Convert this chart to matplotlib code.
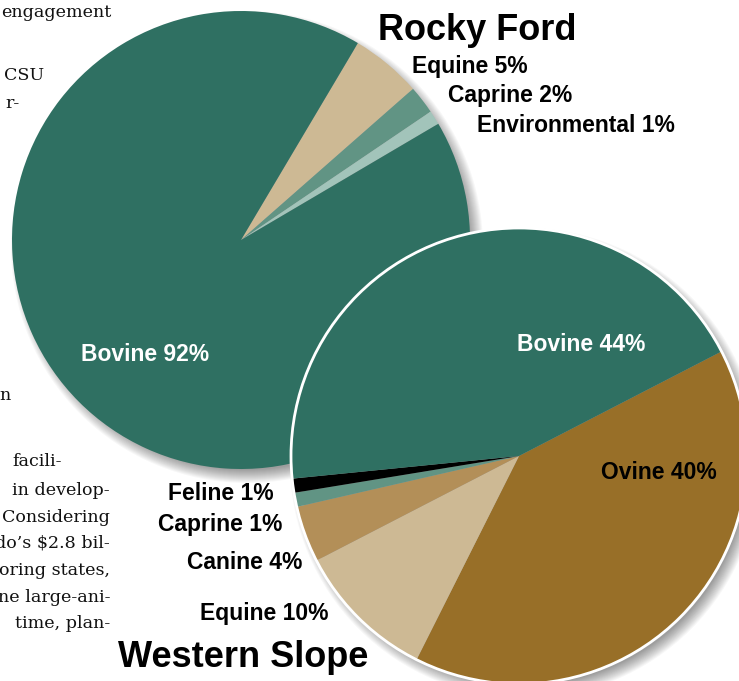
import matplotlib.pyplot as plt
from matplotlib.patches import Circle

# Rocky Ford clinic caseload (%)
rf_cats = ['Equine', 'Caprine', 'Environmental', 'Bovine']
rf_vals = [5, 2, 1, 92]
rf_colors = ['#CDB994', '#619484', '#A2C4BA', '#2F7062']

# Western Slope clinic caseload (%)
ws_cats = ['Ovine', 'Equine', 'Canine', 'Caprine', 'Feline', 'Bovine']
ws_vals = [40, 10, 4, 1, 1, 44]
ws_colors = ['#986F28', '#CDB994', '#B38F58', '#619484', '#000000', '#2F7062']

# body text of the page, cut off at the left edge
body_lines = ['engagement', 'CSU', 'r-', 'n', 'facili-', 'in develop-',
              'Considering', 'do\u2019s $2.8 bil-', 'oring states,',
              'ne large-ani-', 'time, plan-']
body_right = [111, 44, 20, 11, 62, 110, 110, 110, 110, 110, 110]
body_base = [17, 80, 108, 400, 466, 495, 522, 548, 575, 602, 628]

W, H = 739, 681


def Y(y):
    'pixel row (from top) -> data y'
    return H - y


fig = plt.figure(figsize=(W / 100, H / 100), dpi=100)
ax = fig.add_axes([0, 0, 1, 1])


def shadow(cx, cy, r):
    # soft drop shadow from stacked translucent discs
    for k in range(14):
        ax.add_patch(Circle((cx + 6, cy - 7), r - 6 + k, color='black',
                            alpha=0.03, lw=0))


rf_c, rf_r = (241, Y(240)), 229
ws_c, ws_r = (519, Y(456)), 228

shadow(*rf_c, rf_r)
ax.pie(rf_vals, colors=rf_colors, startangle=59.3, counterclock=False,
       center=rf_c, radius=rf_r, frame=True, wedgeprops=dict(linewidth=0))

shadow(*ws_c, ws_r)
ax.pie(ws_vals, colors=ws_colors, startangle=27.3, counterclock=False,
       center=ws_c, radius=ws_r, frame=True, wedgeprops=dict(linewidth=0))
ax.add_patch(Circle(ws_c, ws_r, fill=False, ec='white', lw=2))

ax.set_xlim(0, W)
ax.set_ylim(0, H)
ax.set_aspect('equal')
ax.axis('off')

lab = dict(family='Liberation Sans', weight='bold', size=16.5, va='baseline')
big = dict(family='Liberation Sans', weight='bold', size=26, va='baseline')

ax.text(378, Y(40), 'Rocky Ford', **big)
ax.text(118, Y(667), 'Western Slope', **big)

rf_pos = {'Equine': (412, 73, 'black'), 'Caprine': (448, 102, 'black'),
          'Environmental': (477, 132, 'black'), 'Bovine': (81, 361, 'white')}
for c, v in zip(rf_cats, rf_vals):
    x, y, col = rf_pos[c]
    ax.text(x, Y(y), f'{c} {v}%', color=col, **lab)

ws_pos = {'Bovine': (517, 351, 'white'), 'Ovine': (601, 479, 'black'),
          'Feline': (168, 500, 'black'), 'Caprine': (158, 531, 'black'),
          'Canine': (187, 569, 'black'), 'Equine': (200, 620, 'black')}
for c, v in zip(ws_cats, ws_vals):
    x, y, col = ws_pos[c]
    ax.text(x, Y(y), f'{c} {v}%', color=col, **lab)

for t, xr, yb in zip(body_lines, body_right, body_base):
    ax.text(xr, Y(yb), t, family='DejaVu Serif', size=12.6, ha='right',
            va='baseline', color='#111111')

fig.savefig('out.png', dpi=100)
